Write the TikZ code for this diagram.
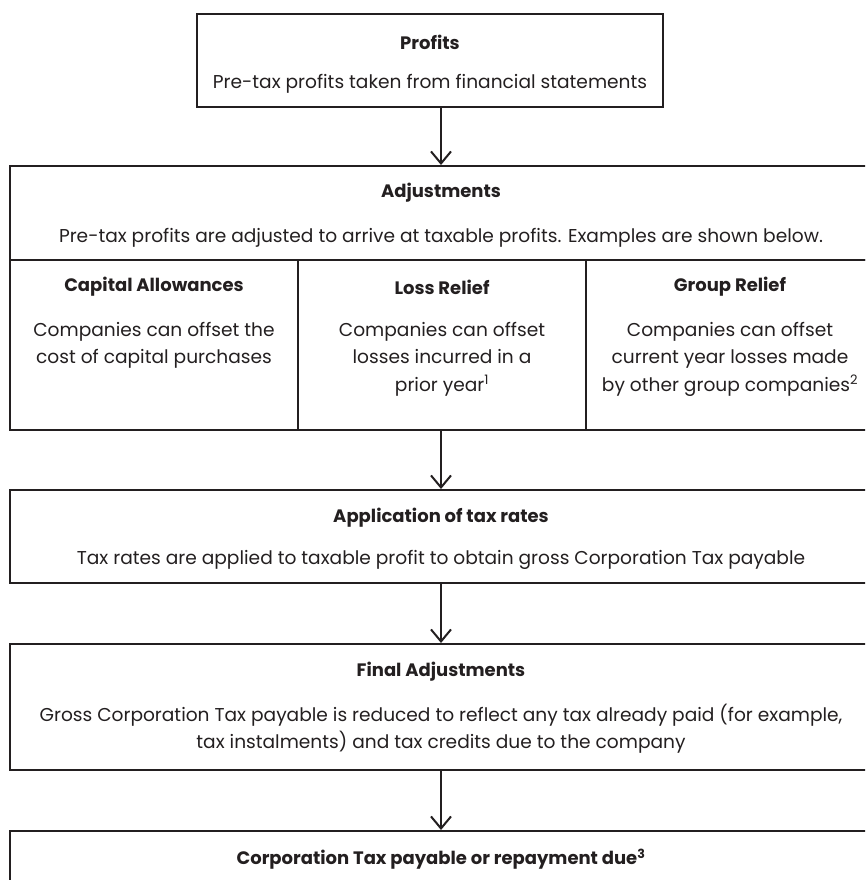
\documentclass[tikz,border=0pt]{standalone}
\usepackage{fontspec}
\setmainfont{Poppins}
\usepackage{xcolor}
\usepackage{tikz}
\usetikzlibrary{positioning}
\usetikzlibrary{arrows.meta}
\definecolor{inkc}{HTML}{231F20}
\tikzset{
    boxnode/.style = {rectangle, draw=inkc, line width=2pt, inner sep=0pt, minimum height=93pt},
    headtxt/.style = {font=\bfseries\fontsize{18}{21}\selectfont, text=inkc, inner sep=0pt},
    bodytxt/.style = {font=\fontsize{18.6}{27.5}\selectfont, text=inkc, align=center, inner sep=0pt},
}

\begin{document}
\begin{tikzpicture}[x=1pt, y=-1pt]
\tikzset{
    widebox/.style = {boxnode, minimum width=863pt},
    subbox/.style = {boxnode, minimum width=288pt, minimum height=170pt},
    edgen/.style = {-{Straight Barb[length=12pt,width=20pt]}, draw=inkc, line width=2pt}
}
\useasboundingbox (0,0) rectangle (865,880);
\clip (0,0) rectangle (865,880);
% boxes
\node[boxnode, minimum width=466pt] at (430,60.5) (profits) {};
\node[widebox, minimum height=94pt] at (441,213) (adjust) {};
\node[subbox] at (153.75,345) (capital) {};
\node[subbox] at (442,345) (loss) {};
\node[subbox, minimum width=286.5pt] at (729.25,345) (group) {};
\node[widebox] at (441,536.5) (rates) {};
\node[widebox, minimum height=126pt] at (441,707) (final) {};
\node[widebox] at (441,877.5) (result) {};
%
\node[headtxt] at (430,42) (profitshd) {Profits};
\node[bodytxt] at (430,84) (profitstx) {Pre-tax profits taken from financial statements};
\node[headtxt] at (441,193) (adjusthd) {Adjustments};
\node[bodytxt] at (441,238) (adjusttx) {Pre-tax profits are adjusted to arrive at taxable profits. Examples are shown below.};
%
\node[headtxt] at (154,287) (capitalhd) {Capital Allowances};
\node[bodytxt] at (154,345.5) (capitaltx) {Companies can offset the\\cost of capital purchases};
\node[headtxt] at (442,287) (losshd) {Loss Relief};
\node[bodytxt] at (442,359) (losstx) {Companies can offset\\losses incurred in a\\prior year\textsuperscript{1}};
\node[headtxt] at (730,287) (grouphd) {Group Relief};
\node[bodytxt] at (730,359) (grouptx) {Companies can offset\\current year losses made\\by other group companies\textsuperscript{2}};
%
\node[headtxt] at (441,518) (rateshd) {Application of tax rates};
\node[bodytxt] at (441,560) (ratestx) {Tax rates are applied to taxable profit to obtain gross Corporation Tax payable};
\node[headtxt] at (441,672) (finalhd) {Final Adjustments};
\node[bodytxt] at (441,728.5) (finaltx) {Gross Corporation Tax payable is reduced to reflect any tax already paid (for example,\\tax instalments) and tax credits due to the company};
\node[headtxt] at (441,859) (resulthd) {Corporation Tax payable or repayment due\textsuperscript{3}};
%
\draw[edgen] (adjust.north |- profits.south) -- (adjust.north);
\draw[edgen] (rates.north |- loss.south) -- (rates.north);
\draw[edgen] (rates.south) -- (final.north);
\draw[edgen] (final.south) -- (result.north);
\end{tikzpicture}
\end{document}
